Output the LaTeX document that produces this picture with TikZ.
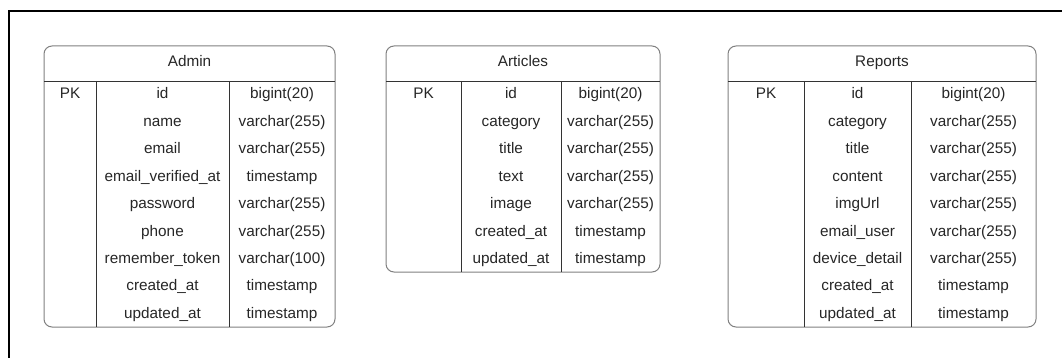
\documentclass[tikz,border=0pt]{standalone}
\usepackage{fontspec}
\setmainfont{Liberation Sans}
\begin{document}
\begin{tikzpicture}[x=1pt, y=-1pt,
    cell/.style={font=\fontsize{15.3}{18}\selectfont, text=black!85, inner sep=0pt, anchor=base},
    tablebox/.style={draw=black!50, line width=1pt, rounded corners=8pt},
    divider/.style={draw=black!80, line width=0.9pt}]
    \useasboundingbox (0,0) rectangle (1062,358);

    % Frame
    \draw[line width=2.6pt] (1062,11) -- (9,11) -- (9,358);

    % Admin table
    \draw[tablebox] (44,46) rectangle (335,327);
    \draw[divider] (44,81) -- (335,81);
    \draw[divider] (96,81) -- (96,327);
    \draw[divider] (229,81) -- (229,327);
    \node[cell] (admin) at (189.5,67) {Admin};
    \node[cell] (admin-pk) at (70,99) {PK};
    \foreach \fname/\ftype [count=\i from 0] in {id/{bigint(20)}, name/{varchar(255)}, email/{varchar(255)},
        email\_verified\_at/timestamp, password/{varchar(255)}, phone/{varchar(255)},
        remember\_token/{varchar(100)}, created\_at/timestamp, updated\_at/timestamp} {
        \node[cell] (admin-f\i) at (162.5,{99+27.4*\i}) {\fname};
        \node[cell] (admin-t\i) at (282,{99+27.4*\i}) {\ftype};
    }

    % Articles table
    \draw[tablebox] (386,46) rectangle (660,272);
    \draw[divider] (386,81) -- (660,81);
    \draw[divider] (461,81) -- (461,272);
    \draw[divider] (561,81) -- (561,272);
    \node[cell] (articles) at (523,67) {Articles};
    \node[cell] (articles-pk) at (423.5,99) {PK};
    \foreach \fname/\ftype [count=\i from 0] in {id/{bigint(20)}, category/{varchar(255)}, title/{varchar(255)},
        text/{varchar(255)}, image/{varchar(255)}, created\_at/timestamp, updated\_at/timestamp} {
        \node[cell] (articles-f\i) at (511,{99+27.4*\i}) {\fname};
        \node[cell] (articles-t\i) at (610.5,{99+27.4*\i}) {\ftype};
    }

    % Reports table
    \draw[tablebox] (728,46) rectangle (1036,327);
    \draw[divider] (728,81) -- (1036,81);
    \draw[divider] (804,81) -- (804,327);
    \draw[divider] (911,81) -- (911,327);
    \node[cell] (reports) at (882,67) {Reports};
    \node[cell] (reports-pk) at (766,99) {PK};
    \foreach \fname/\ftype [count=\i from 0] in {id/{bigint(20)}, category/{varchar(255)}, title/{varchar(255)},
        content/{varchar(255)}, imgUrl/{varchar(255)}, email\_user/{varchar(255)},
        device\_detail/{varchar(255)}, created\_at/timestamp, updated\_at/timestamp} {
        \node[cell] (reports-f\i) at (857.5,{99+27.4*\i}) {\fname};
        \node[cell] (reports-t\i) at (973.5,{99+27.4*\i}) {\ftype};
    }
\end{tikzpicture}
\end{document}
